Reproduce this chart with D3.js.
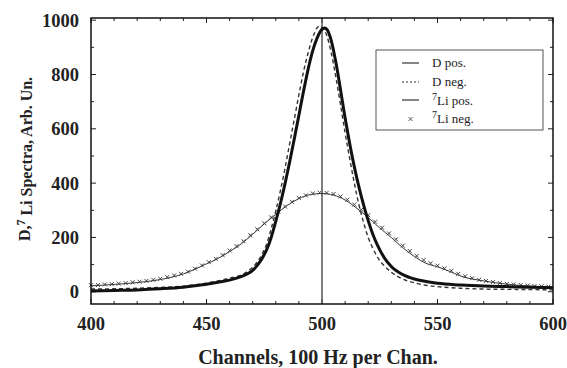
<!DOCTYPE html>
<html>
<head>
<meta charset="utf-8">
<script src="https://cdn.jsdelivr.net/npm/d3@7"></script>
<style>
  body { margin: 0; background: #fff; }
  text { font-family: "Liberation Serif", "DejaVu Serif", serif; fill: #222; }
</style>
</head>
<body>
<div id="chart"></div>
<script>
var svgWidth = 567;
var svgHeight = 368;

var margin = { top: 18, right: 14, bottom: 64, left: 91 };
var width = svgWidth - margin.left - margin.right;
var height = svgHeight - margin.top - margin.bottom;

// D pos. (bold solid)
var dPosCh  = [400,410,420,430,440,445,450,455,460,465,468,470,472,474,476,478,480,482,484,486,488,490,492,494,496,498,500,501,502,504,506,508,510,512,514,516,518,520,522,524,527,530,535,540,545,550,560,570,580,590,600];
var dPosVal = [3,5,7,11,17,22,28,35,43,56,67,79,97,122,154,200,260,325,398,478,563,650,738,820,888,937,966,971,967,925,845,745,640,545,460,385,320,262,212,172,125,93,63,47,38,31,25,21,19,17,15];

// D neg. (dashed)
var dNegCh  = [400,410,420,430,440,450,455,460,465,468,470,472,474,476,478,480,482,484,486,488,490,492,494,496,498,499,500,502,504,506,508,510,512,514,516,518,520,522,524,527,530,535,540,545,550,560,570,580,590,600];
var dNegVal = [10,11,13,16,21,32,40,50,62,76,90,110,138,175,232,298,372,455,545,635,725,810,880,937,973,978,974,945,880,790,690,585,490,400,320,255,200,160,128,95,72,47,33,24,19,13,10,9,8,7];

// 7Li pos. (thin solid)
var liPosCh  = [400,410,420,430,440,445,450,454,460,465,470,475,480,485,490,495,500,505,510,515,519,525,530,535,540,545,550,555,560,570,580,590,600];
var liPosVal = [22,27,34,45,66,83,103,118,148,176,212,250,285,318,343,358,362,356,338,308,281,235,200,162,130,105,92,76,58,40,28,21,17];

// 7Li neg. (markers)
var liNegCh  = [400,403,406,409,412,415,418,421,424,427,430,433,436,439,442,445,448,451,454,457,460,463,466,469,472,475,478,481,484,487,490,493,496,499,502,505,508,511,514,517,520,523,526,529,532,535,538,541,544,547,550,553,556,559,562,565,568,571,574,577,580,583,586,589,592,595,598];
var liNegVal = [24,25,27,28,30,32,35,37,40,44,48,54,60,66,74,85,97,109,121,135,152,168,186,208,230,252,274,295,314,331,345,355,362,365,364,360,351,339,321,302,282,258,236,215,193,170,150,132,117,105,96,86,77,66,57,50,44,40,36,32,29,27,25,23,21,20,19];

var xTicks = [400, 450, 500, 550, 600];
var yTicks = [0, 200, 400, 600, 800, 1000];

var svg = d3.select("#chart")
  .append("svg")
  .attr("width", svgWidth)
  .attr("height", svgHeight);

svg.append("rect")
  .attr("width", "100%")
  .attr("height", "100%")
  .attr("fill", "#fff");

var chartGroup = svg.append("g")
  .attr("transform", `translate(${margin.left}, ${margin.top})`);

var x = d3.scaleLinear().domain([400, 600]).range([0, width]);
var y = d3.scaleLinear().domain([-45, 1008]).range([height, 0]);

// ticks, pointing inward on all four sides
var xMinor = d3.range(400, 601, 10);
var yMinor = d3.range(0, 1001, 100);

function tickLen(v, step) { return v % step === 0 ? 5 : 3; }

chartGroup.selectAll(".xtb").data(xMinor).enter().append("line")
  .attr("x1", d => x(d)).attr("x2", d => x(d))
  .attr("y1", height).attr("y2", d => height - tickLen(d, 50))
  .attr("stroke", "#222").attr("stroke-width", 1);
chartGroup.selectAll(".xtt").data(xMinor).enter().append("line")
  .attr("x1", d => x(d)).attr("x2", d => x(d))
  .attr("y1", 0).attr("y2", d => tickLen(d, 50))
  .attr("stroke", "#222").attr("stroke-width", 1);
chartGroup.selectAll(".ytl").data(yMinor).enter().append("line")
  .attr("x1", 0).attr("x2", d => tickLen(d, 200))
  .attr("y1", d => y(d)).attr("y2", d => y(d))
  .attr("stroke", "#222").attr("stroke-width", 1);
chartGroup.selectAll(".ytr").data(yMinor).enter().append("line")
  .attr("x1", width).attr("x2", d => width - tickLen(d, 200))
  .attr("y1", d => y(d)).attr("y2", d => y(d))
  .attr("stroke", "#222").attr("stroke-width", 1);

// tick labels
chartGroup.selectAll(".xl").data(xTicks).enter().append("text")
  .attr("x", d => x(d)).attr("y", height + 26)
  .attr("text-anchor", "middle")
  .style("font-size", "18.5px").style("font-weight", "bold")
  .text(d => d);
chartGroup.selectAll(".yl").data(yTicks).enter().append("text")
  .attr("x", -12).attr("y", d => y(d)).attr("dy", "0.35em")
  .attr("text-anchor", "end")
  .style("font-size", "18.5px").style("font-weight", "bold")
  .text(d => d);

// vertical line at channel 500
chartGroup.append("line")
  .attr("x1", x(500)).attr("x2", x(500))
  .attr("y1", 0).attr("y2", height)
  .attr("stroke", "#555").attr("stroke-width", 1.5);

function pts(ch, val) { return ch.map((c, i) => [c, val[i]]); }

var line = d3.line()
  .x(d => x(d[0]))
  .y(d => y(d[1]))
  .curve(d3.curveMonotoneX);

chartGroup.append("path")
  .datum(pts(liPosCh, liPosVal))
  .attr("d", line)
  .attr("fill", "none").attr("stroke", "#333").attr("stroke-width", 1);

chartGroup.selectAll(".mk").data(pts(liNegCh, liNegVal)).enter().append("path")
  .attr("transform", d => `translate(${x(d[0])},${y(d[1])})`)
  .attr("d", "M-2,-2L2,2M-2,2L2,-2")
  .attr("stroke", "#444").attr("stroke-width", 1);

chartGroup.append("path")
  .datum(pts(dNegCh, dNegVal))
  .attr("d", line)
  .attr("fill", "none").attr("stroke", "#333").attr("stroke-width", 1.4)
  .attr("stroke-dasharray", "4,3");

chartGroup.append("path")
  .datum(pts(dPosCh, dPosVal))
  .attr("d", line)
  .attr("fill", "none").attr("stroke", "#111").attr("stroke-width", 3);

// frame
chartGroup.append("rect")
  .attr("width", width).attr("height", height)
  .attr("fill", "none").attr("stroke", "#111").attr("stroke-width", 1.5);

// legend
var legend = svg.append("g").attr("transform", "translate(376, 50)");
legend.append("rect")
  .attr("width", 167).attr("height", 80)
  .attr("fill", "#fff").attr("stroke", "#555").attr("stroke-width", 1);

var legendRows = [
  { y: 13, kind: "solid", sup: "", label: "D pos." },
  { y: 32, kind: "dash", sup: "", label: "D neg." },
  { y: 50, kind: "solid", sup: "7", label: "Li pos." },
  { y: 68, kind: "mark", sup: "7", label: "Li neg." }
];
legendRows.forEach(function(r) {
  if (r.kind === "mark") {
    legend.append("path")
      .attr("transform", `translate(34.5,${r.y + 1})`)
      .attr("d", "M-2,-2L2,2M-2,2L2,-2")
      .attr("stroke", "#444").attr("stroke-width", 0.9);
  } else {
    legend.append("line")
      .attr("x1", 26).attr("x2", 43).attr("y1", r.y).attr("y2", r.y)
      .attr("stroke", "#333").attr("stroke-width", 1.2)
      .attr("stroke-dasharray", r.kind === "dash" ? "2,2" : null);
  }
  var t = legend.append("text")
    .attr("x", 56).attr("y", r.y + 4)
    .style("font-size", "13px");
  if (r.sup) {
    t.append("tspan").attr("dy", "-0.4em").style("font-size", "10px").text(r.sup);
    t.append("tspan").attr("dy", "0.4em").text(r.label);
  } else {
    t.text(r.label);
  }
});

// axis titles
svg.append("text")
  .attr("x", 318)
  .attr("y", 364)
  .attr("text-anchor", "middle")
  .style("font-size", "20px").style("font-weight", "bold")
  .text("Channels, 100 Hz per Chan.");

var yTitle = svg.append("text")
  .attr("transform", "translate(30, 159) rotate(-90)")
  .attr("text-anchor", "middle")
  .style("font-size", "16px").style("font-weight", "bold");
yTitle.append("tspan").text("D,");
yTitle.append("tspan").attr("dy", "-0.45em").style("font-size", "12px").text("7");
yTitle.append("tspan").attr("dy", "0.45em").text(" Li Spectra, Arb. Un.");
</script>
</body>
</html>
